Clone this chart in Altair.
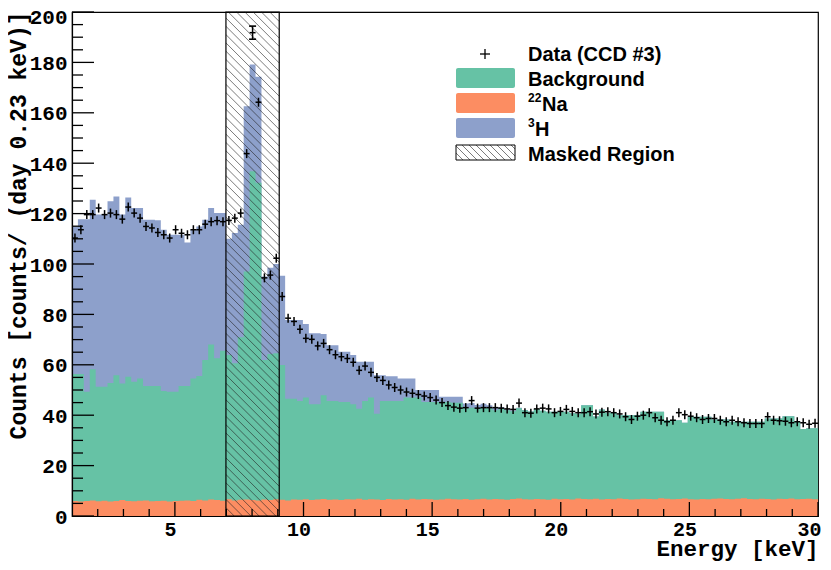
import altair as alt
import numpy as np
import pandas as pd

# ---------------- values ----------------
E_MIN, E_MAX, N_BINS = 1.0, 30.0, 126
Y_MIN, Y_MAX = 0, 200
MASK_BINS = (26, 35)  # masked region spans these bin edges

# data points (counts / day / 0.23 keV), one per bin
data_counts = [
    110.3, 113.6, 119.6, 119.6, 122.2, 119.6, 120.2, 119.6, 117.8, 122.6,
    120.2, 118.2, 114.9, 114.3, 112.5, 111.6, 110.3, 113.6, 112.2, 111.6,
    113.6, 113.6, 115.8, 116.8, 117.2, 116.8, 117.3, 118.2, 120.2, 143.8,
    191.8, 164.2, 94.5, 95.6, 102.3, 87.1, 78.5, 77.2, 74.1, 70.5,
    70.1, 67.5, 68.5, 66.0, 64.0, 63.2, 62.5, 61.0, 57.8, 59.5,
    57.0, 55.0, 53.8, 52.0, 51.0, 50.0, 49.2, 48.7, 48.2, 47.6,
    47.0, 46.0, 45.0, 43.8, 43.2, 42.8, 43.0, 45.8, 42.8, 43.0,
    43.0, 43.0, 42.8, 42.5, 42.3, 44.8, 41.0, 40.8, 42.5, 42.8,
    42.5, 41.0, 41.5, 42.3, 41.5, 41.0, 41.0, 41.4, 40.5, 41.2,
    41.4, 41.0, 40.5, 39.4, 38.3, 39.6, 40.0, 41.0, 39.0, 38.0,
    37.4, 38.0, 41.0, 40.2, 39.6, 39.0, 38.3, 38.7, 38.7, 38.0,
    37.4, 38.0, 37.4, 37.0, 36.7, 36.7, 36.7, 39.4, 38.0, 37.8,
    37.6, 37.0, 37.4, 37.0, 36.4, 36.8,
]
# visible (capped) error bars
data_err = {30: 2.6}

# top of the stacked 3H histogram (Na + Background + 3H)
h3_top = [
    114.9, 117.8, 117.8, 125.5, 119.6, 119.6, 124.9, 126.8, 119.6, 126.4,
    122.2, 122.2, 117.6, 117.6, 117.4, 113.6, 111.6, 111.6, 111.6, 108.5,
    113.6, 114.9, 117.6, 122.2, 120.2, 120.2, 110.0, 112.3, 115.6, 162.6,
    179.2, 174.3, 95.0, 98.5, 100.0, 95.3, 77.8, 77.8, 77.8, 76.2,
    72.5, 72.5, 72.2, 67.8, 67.8, 65.2, 65.2, 63.9, 61.2, 61.2,
    61.2, 55.9, 55.9, 55.5, 55.5, 54.6, 54.6, 54.6, 50.0, 50.0,
    50.0, 50.0, 47.3, 47.3, 47.3, 47.3, 44.6, 44.8, 44.0, 44.5,
    43.9, 42.9, 43.3, 42.5, 42.0, 43.0, 42.1, 41.5, 42.5, 41.8,
    41.4, 41.4, 41.4, 41.4, 40.8, 40.6, 43.9, 43.9, 39.5, 42.3,
    41.0, 41.0, 40.0, 40.0, 40.0, 40.0, 41.4, 41.4, 41.4, 41.4,
    38.0, 38.0, 38.0, 37.0, 39.4, 39.4, 39.4, 39.4, 38.3, 38.3,
    38.3, 37.4, 37.4, 37.4, 37.4, 37.4, 37.4, 38.7, 38.7, 38.7,
    39.6, 39.6, 37.4, 34.5, 34.8, 34.8,
]
# top of the stacked Background histogram (Na + Background)
bkg_top = [
    56.3, 56.3, 49.3, 58.2, 51.3, 51.3, 52.8, 55.9, 52.6, 55.3,
    53.3, 54.6, 51.6, 51.6, 51.6, 49.6, 49.3, 49.3, 51.6, 51.6,
    54.6, 55.6, 61.9, 68.1, 62.6, 65.6, 63.9, 60.6, 70.9, 97.0,
    136.8, 132.2, 61.9, 64.3, 64.6, 59.9, 46.5, 46.5, 45.6, 47.0,
    44.3, 44.3, 47.9, 45.6, 45.6, 45.2, 45.2, 44.3, 42.6, 45.6,
    47.0, 40.6, 45.6, 45.6, 45.6, 45.6, 47.0, 47.0, 47.0, 45.2,
    45.2, 45.2, 45.2, 45.2, 44.9, 44.9, 42.8, 43.0, 42.5, 43.2,
    42.8, 42.0, 42.6, 42.0, 41.6, 42.8, 42.0, 41.5, 42.5, 41.8,
    41.4, 41.4, 41.4, 41.4, 40.8, 40.6, 43.9, 43.9, 39.5, 42.3,
    41.0, 41.0, 40.0, 40.0, 40.0, 40.0, 41.4, 41.4, 41.4, 41.4,
    38.0, 38.0, 38.0, 37.0, 39.4, 39.4, 39.4, 39.4, 38.3, 38.3,
    38.3, 37.4, 37.4, 37.4, 37.4, 37.4, 37.4, 38.7, 38.7, 38.7,
    39.6, 39.6, 37.4, 34.5, 34.8, 34.8,
]
# 22Na histogram (bottom of the stack)
na_top = [
    6.0, 5.8, 6.0, 6.2, 5.9, 6.1, 5.8, 6.0, 6.3, 6.0,
    5.9, 6.1, 6.2, 5.9, 6.0, 6.1, 5.8, 6.0, 6.1, 6.2,
    6.0, 6.4, 6.2, 6.5, 6.3, 6.1, 6.6, 6.2, 6.4, 6.5,
    6.3, 6.2, 6.5, 6.3, 6.6, 6.4, 6.2, 6.5, 6.4, 6.6,
    6.3, 6.5, 6.7, 6.4, 6.5, 6.3, 6.6, 6.5, 6.8, 6.4,
    6.6, 6.5, 6.3, 6.7, 6.5, 6.6, 6.4, 6.8, 6.5, 6.7,
    6.6, 6.4, 6.5, 6.8, 6.6, 6.5, 6.7, 6.4, 6.6, 6.8,
    6.5, 6.7, 6.6, 6.4, 6.7, 6.9, 6.6, 6.5, 6.7, 6.6,
    6.4, 6.8, 6.6, 6.7, 6.5, 6.9, 6.7, 6.6, 6.8, 6.5,
    6.7, 6.6, 6.9, 6.7, 6.5, 6.6, 6.8, 6.7, 6.6, 7.0,
    6.8, 6.6, 6.7, 6.9, 6.6, 6.5, 6.7, 6.6, 6.8, 6.9,
    6.7, 6.6, 6.8, 7.0, 6.7, 6.6, 6.8, 6.7, 6.5, 6.8,
    6.7, 6.9, 6.6, 6.7, 6.8, 6.6,
]

X_TICKS = [5, 10, 15, 20, 25, 30]
X_MINOR = [2, 3, 4, 6, 7, 8, 9, 11, 12, 13, 14, 16, 17, 18, 19,
           21, 22, 23, 24, 26, 27, 28, 29]
Y_TICKS = [0, 20, 40, 60, 80, 100, 120, 140, 160, 180, 200]
Y_MINOR = [5, 10, 15, 25, 30, 35, 45, 50, 55, 65, 70, 75, 85, 90, 95,
           105, 110, 115, 125, 130, 135, 145, 150, 155, 165, 170, 175,
           185, 190, 195]

LEGEND_LABELS = ["Data (CCD #3)", "Background", "Na", "H", "Masked Region"]
LEGEND_SUPS = ["", "", "22", "3", ""]

# ---------------- styling ----------------
GREEN, ORANGE, BLUE = "#66c2a5", "#fc8d62", "#8da0cb"
MONO, SANS = "Liberation Mono", "Liberation Sans"
W, H = 746, 504
kx = W / (E_MAX - E_MIN)
ky = H / (Y_MAX - Y_MIN)
MARK_HALF = 4.5 / ky  # half height of the "+" marker in counts

edges = np.linspace(E_MIN, E_MAX, N_BINS + 1)
lo, hi = edges[:-1], edges[1:]
ctr = 0.5 * (lo + hi)

xs = alt.Scale(domain=[E_MIN, E_MAX], nice=False, zero=False)
ys = alt.Scale(domain=[Y_MIN, Y_MAX], nice=False, zero=False)

xaxis = alt.Axis(values=X_TICKS, format="d", title="Energy [keV]", ticks=False, tickSize=0,
                 grid=False, domainColor="black", domainWidth=1.2,
                 labelFont=MONO, labelFontWeight="bold", labelFontSize=20, labelColor="black",
                 labelPadding=3, labelFlush=False, labelOverlap=False,
                 labelOffset={"condition": {"test": "datum.value == 30", "value": -9}, "value": -5},
                 titleFont=MONO, titleFontWeight="bold", titleFontSize=22.5, titleColor="black",
                 titleAlign="right", titleBaseline="alphabetic", titleX=W, titleY=39,
                 zindex=1)
yaxis = alt.Axis(values=Y_TICKS, format="d", title="Counts [counts/ (day 0.23 keV)]",
                 ticks=False, tickSize=0, grid=False, domainColor="black", domainWidth=1.2,
                 labelFont=MONO, labelFontWeight="bold", labelFontSize=21, labelColor="black",
                 labelPadding=5, labelFlush=False, labelOverlap=False,
                 labelOffset={"condition": {"test": "datum.value == 200", "value": 5}, "value": 1},
                 titleFont=MONO, titleFontWeight="bold", titleFontSize=23, titleColor="black",
                 titleAngle=270, titleAlign="right", titleBaseline="alphabetic",
                 titleX=-47, titleY=-1, zindex=1)


def X(field):
    return alt.X(field, scale=xs, axis=xaxis)


def Y(field):
    return alt.Y(field, scale=ys, axis=yaxis)


def step_df(vals):
    return pd.DataFrame({"x": edges, "top": list(vals) + [vals[-1]]})


def area(vals, color):
    return alt.Chart(step_df(vals)).mark_area(interpolate="step-after", color=color).encode(
        x=X("x:Q"), y=Y("top:Q"))


layers = [area(h3_top, BLUE), area(bkg_top, GREEN), area(na_top, ORANGE)]

# hatched masked region (45 degree "\" lines)
xl, xr = edges[MASK_BINS[0]], edges[MASK_BINS[1]]
m = kx / ky
span = (Y_MAX - Y_MIN) / m
step = 8.3 / kx
segs = []
c = xl - span
while c < xr:
    a, b = max(xl, c), min(xr, c + span)
    if b > a:
        segs.append({"x": a, "y": Y_MAX - m * (a - c), "x2": b, "y2": Y_MAX - m * (b - c)})
    c += step
layers.append(alt.Chart(pd.DataFrame(segs)).mark_rule(color="#222222", strokeWidth=0.6).encode(
    x=X("x:Q"), y=Y("y:Q"), x2="x2:Q", y2="y2:Q"))
layers.append(alt.Chart(pd.DataFrame({"a": [xl], "b": [xr], "y0": [Y_MIN], "y1": [Y_MAX]}))
              .mark_rect(fillOpacity=0, stroke="black", strokeWidth=1.2).encode(
    x=X("a:Q"), x2="b:Q", y=Y("y0:Q"), y2="y1:Q"))

# data points: "+" markers spanning the bin width
ddf = pd.DataFrame({"lo": lo, "hi": hi, "c": ctr, "y": data_counts})
ddf["e"] = [max(MARK_HALF, data_err.get(i, 0)) for i in range(N_BINS)]
ddf["ylo"] = ddf["y"] - ddf["e"]
ddf["yhi"] = ddf["y"] + ddf["e"]
layers.append(alt.Chart(ddf).mark_rule(color="black", strokeWidth=1.5).encode(
    x=X("lo:Q"), x2="hi:Q", y=Y("y:Q")))
layers.append(alt.Chart(ddf).mark_rule(color="black", strokeWidth=1.5).encode(
    x=X("c:Q"), y=Y("ylo:Q"), y2="yhi:Q"))
caps = []
for i, e in data_err.items():
    for yy in (data_counts[i] - e, data_counts[i] + e):
        caps.append({"a": ctr[i] - 3.5 / kx, "b": ctr[i] + 3.5 / kx, "y": yy})
layers.append(alt.Chart(pd.DataFrame(caps)).mark_rule(color="black", strokeWidth=1.6).encode(
    x=X("a:Q"), x2="b:Q", y=Y("y:Q")))


# inward ticks
def yticks(vals, length):
    return alt.Chart(pd.DataFrame({"v": vals})).mark_rule(color="black", strokeWidth=1.3).encode(
        y=Y("v:Q"), x=alt.value(0), x2=alt.value(length))


def xticks(vals, length):
    return alt.Chart(pd.DataFrame({"v": vals})).mark_rule(color="black", strokeWidth=1.3).encode(
        x=X("v:Q"), y=alt.value(H), y2=alt.value(H - length))


layers += [yticks(Y_TICKS, 22), yticks(Y_MINOR, 11), xticks(X_TICKS, 14), xticks(X_MINOR, 7)]

# legend (pixel layout inside the plot area)
ONE = alt.Data(values=[{"o": 1}])


def vrect(x1, x2, y1, y2, **kw):
    return alt.Chart(ONE).mark_rect(**kw).encode(
        x=alt.value(x1), x2=alt.value(x2), y=alt.value(y1), y2=alt.value(y2))


def vrule(x1, y1, x2, y2, **kw):
    return alt.Chart(ONE).mark_rule(**kw).encode(
        x=alt.value(x1), x2=alt.value(x2), y=alt.value(y1), y2=alt.value(y2))


def vtext(txt, x, y, size):
    return alt.Chart(ONE).mark_text(text=txt, align="left", baseline="alphabetic", font=SANS,
                                    fontSize=size, fontWeight="bold", color="black").encode(
        x=alt.value(x), y=alt.value(y))


BX0, BX1, TX = 384, 443, 456
fills = [None, GREEN, ORANGE, BLUE, "hatch"]
for i, (lab, sup, fill) in enumerate(zip(LEGEND_LABELS, LEGEND_SUPS, fills)):
    base = 49 + 25 * i
    if fill is None:
        cx, cy = 413, base - 7
        layers.append(vrule(cx - 5, cy, cx + 5, cy, color="black", strokeWidth=1.3))
        layers.append(vrule(cx, cy - 5, cx, cy + 5, color="black", strokeWidth=1.3))
    elif fill == "hatch":
        y1, y2 = base - 16, base - 1
        hs = []
        c = BX0 - (y2 - y1)
        while c < BX1:
            a, b = max(BX0, c), min(BX1, c + (y2 - y1))
            if b > a:
                hs.append({"x": E_MIN + a / kx, "y": Y_MAX - (y1 + (a - c)) / ky,
                           "x2": E_MIN + b / kx, "y2": Y_MAX - (y1 + (b - c)) / ky})
            c += 7
        layers.append(alt.Chart(pd.DataFrame(hs)).mark_rule(color="#222222", strokeWidth=0.6).encode(
            x=X("x:Q"), y=Y("y:Q"), x2="x2:Q", y2="y2:Q"))
        layers.append(vrect(BX0, BX1, y1, y2, fillOpacity=0, stroke="black", strokeWidth=1))
    else:
        layers.append(vrect(BX0, BX1, base - 18, base + 2, fill=fill, cornerRadius=2))
    tx = TX
    if sup:
        layers.append(vtext(sup, TX, base - 9, 12))
        tx = TX + 7 * len(sup)
    layers.append(vtext(lab, tx, base, 20))

chart = alt.layer(*layers).properties(
    width=W, height=H,
    autosize=alt.AutoSizeParams(type="none"),
    padding={"left": 64, "top": 4, "right": 5, "bottom": 46},
    background="white",
).configure_view(stroke="black", strokeWidth=1.2)

chart.save("out.html", embed_options={"renderer": "svg", "actions": False})
